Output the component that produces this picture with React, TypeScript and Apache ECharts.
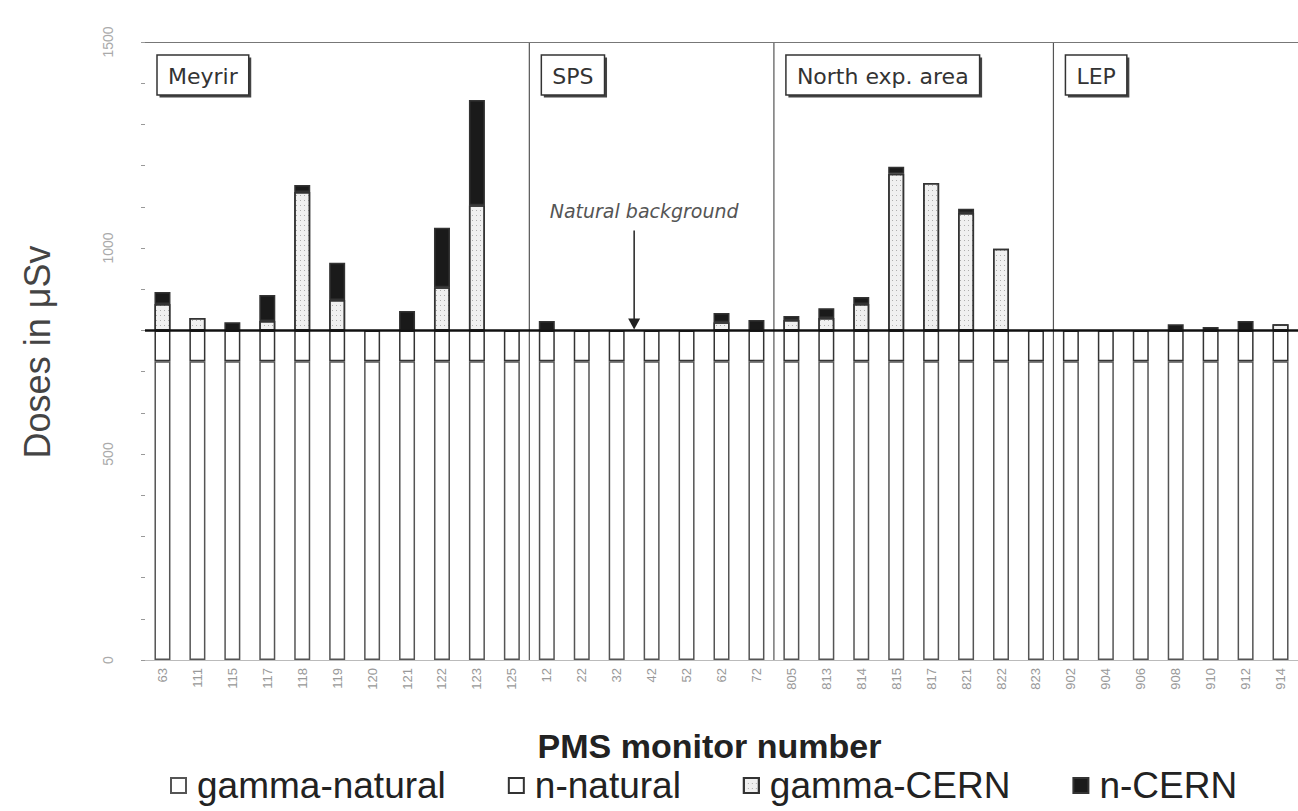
import React, { useEffect, useRef } from 'react';
import * as echarts from 'echarts';

const categories = ['63', '111', '115', '117', '118', '119', '120', '121', '122', '123', '125',
  '12', '22', '32', '42', '52', '62', '72',
  '805', '813', '814', '815', '817', '821', '822', '823',
  '902', '904', '906', '908', '910', '912', '914'];

const regionNames = ['Meyrir', 'SPS', 'North exp. area', 'LEP'];
const regionStarts = [0, 11, 18, 26];

const gammaNatural = [725, 725, 725, 725, 725, 725, 725, 725, 725, 725, 725,
  725, 725, 725, 725, 725, 725, 725,
  725, 725, 725, 725, 725, 725, 725, 725,
  725, 725, 725, 725, 725, 725, 725];
const nNatural = [75, 75, 75, 75, 75, 75, 75, 75, 75, 75, 75,
  75, 75, 75, 75, 75, 75, 75,
  75, 75, 75, 75, 75, 75, 75, 75,
  75, 75, 75, 75, 75, 75, 75];
const gammaCERN = [64, 30, 0, 23, 336, 74, 0, 0, 105, 304, 0,
  0, 0, 0, 0, 0, 20, 0,
  25, 30, 64, 380, 358, 285, 198, 0,
  0, 0, 0, 0, 0, 0, 15];
const nCERN = [29, 0, 20, 63, 17, 90, 0, 47, 144, 255, 0,
  23, 0, 0, 0, 0, 22, 25,
  10, 24, 17, 17, 0, 10, 0, 0,
  0, 0, 0, 15, 8, 23, 0];

const yLabels = [0, 500, 1000, 1500];
const naturalBackground = 800;
const noteText = 'Natural background';

export default function App() {
  const ref = useRef<HTMLDivElement>(null);

  useEffect(() => {
    const chart = echarts.init(ref.current!, null, { renderer: 'svg' });
    const border = { borderColor: '#333', borderWidth: 1.5 };
    const mk = (name: string, data: number[], color: string, extra: any = {}) => ({
      name,
      type: 'bar',
      stack: 'dose',
      barWidth: 16,
      data: data.map((v) => (v === 0 ? null : v)),
      itemStyle: { color, ...border, ...(extra.itemStyle || {}) },
      ...(extra.markLine ? { markLine: extra.markLine } : {}),
    });

    chart.setOption({
      animation: false,
      textStyle: { fontFamily: '"Liberation Sans", Arial, sans-serif' },
      grid: { left: 145, right: 0, top: 42, bottom: 151 },
      xAxis: {
        type: 'category',
        data: categories,
        axisLine: { lineStyle: { color: '#bbb' } },
        axisTick: { show: false },
        axisLabel: { rotate: 90, fontSize: 13, color: '#999', margin: 8 },
      },
      yAxis: {
        type: 'value',
        min: 0,
        max: 1500,
        interval: 100,
        axisLine: { show: false },
        axisTick: { show: true, length: 4, lineStyle: { color: '#999' } },
        splitLine: { show: false },
        axisLabel: {
          rotate: 90,
          color: '#aaa',
          fontSize: 14,
          margin: 30,
          formatter: (v: number) => (yLabels.includes(v) ? String(v) : ''),
        },
      },
      legend: {
        left: 165,
        top: 762,
        icon: 'rect',
        itemWidth: 15,
        itemHeight: 15,
        itemGap: 62,
        textStyle: { fontSize: 37, color: '#222', padding: [0, 0, 0, 6] },
        data: ['gamma-natural', 'n-natural', 'gamma-CERN', 'n-CERN'],
      },
      series: [
        mk('gamma-natural', gammaNatural, '#ffffff', { itemStyle: { borderColor: '#555' } }),
        mk('n-natural', nNatural, '#ffffff'),
        mk('gamma-CERN', gammaCERN, '#f0f0f0', {
          itemStyle: {
            decal: {
              symbol: 'rect',
              symbolSize: 1,
              color: 'rgba(0,0,0,0.28)',
              dashArrayX: [1, 3],
              dashArrayY: [1, 4],
              rotation: 0,
            },
          },
        }),
        mk('n-CERN', nCERN, '#1a1a1a', {
          markLine: {
            silent: true,
            symbol: ['none', 'none'],
            label: { show: false },
            data: [
              { yAxis: naturalBackground, lineStyle: { color: '#111', width: 2.5, type: 'solid' } },
              { yAxis: 1500, lineStyle: { color: '#777', width: 1, type: 'solid' } },
            ],
          },
        }),
      ],
    });

    const xPix = (i: number) => chart.convertToPixel({ xAxisIndex: 0 }, categories[i]) as number;
    const yPix = (v: number) => chart.convertToPixel({ yAxisIndex: 0 }, v) as number;
    const top = yPix(1500);
    const bottom = yPix(0);
    const step = xPix(1) - xPix(0);
    const y800 = yPix(naturalBackground);
    const plotCenter = (xPix(0) - step / 2 + xPix(categories.length - 1) + step / 2) / 2;

    const canvas = document.createElement('canvas');
    const ctx = canvas.getContext('2d')!;
    const boxFont = '22px "DejaVu Sans"';
    ctx.font = boxFont;

    const elements: any[] = [];
    regionStarts.forEach((s, k) => {
      const left = s === 0 ? xPix(0) - step / 2 : (xPix(s - 1) + xPix(s)) / 2;
      if (s !== 0) {
        elements.push({
          type: 'line',
          shape: { x1: left, y1: top, x2: left, y2: bottom },
          style: { stroke: '#555', lineWidth: 1.2 },
          silent: true,
        });
      }
      const tw = ctx.measureText(regionNames[k]).width;
      const bx = left + 12;
      const by = 55;
      const bw = tw + 22;
      const bh = 40;
      elements.push({
        type: 'rect',
        shape: { x: bx + 2.5, y: by + 2.5, width: bw, height: bh },
        style: { fill: '#444' },
        silent: true,
      });
      elements.push({
        type: 'rect',
        shape: { x: bx, y: by, width: bw, height: bh },
        style: { fill: '#fff', stroke: '#333', lineWidth: 1.5 },
        silent: true,
      });
      elements.push({
        type: 'text',
        x: bx + 11,
        y: by + bh / 2 + 1,
        style: {
          text: regionNames[k],
          font: boxFont,
          fill: '#333',
          textAlign: 'left',
          textVerticalAlign: 'middle',
        },
        silent: true,
      });
    });

    const ax = (xPix(13) + xPix(14)) / 2;
    elements.push({
      type: 'text',
      x: ax + 10,
      y: y800 - 119,
      style: {
        text: noteText,
        font: 'italic 19px "DejaVu Sans"',
        fill: '#555',
        textAlign: 'center',
        textVerticalAlign: 'middle',
      },
      silent: true,
    });
    elements.push({
      type: 'line',
      shape: { x1: ax, y1: y800 - 100, x2: ax, y2: y800 - 10 },
      style: { stroke: '#222', lineWidth: 1.5 },
      silent: true,
    });
    elements.push({
      type: 'polygon',
      shape: { points: [[ax - 6, y800 - 12], [ax + 6, y800 - 12], [ax, y800 - 1]] },
      style: { fill: '#222' },
      silent: true,
    });
    elements.push({
      type: 'text',
      x: 37,
      y: 352,
      rotation: Math.PI / 2,
      style: {
        text: 'Doses in μSv',
        font: '36px "Liberation Sans"',
        fill: '#444',
        textAlign: 'center',
        textVerticalAlign: 'middle',
      },
      silent: true,
    });
    elements.push({
      type: 'text',
      x: plotCenter - 12,
      y: 746,
      style: {
        text: 'PMS monitor number',
        font: 'bold 34px "Liberation Sans"',
        fill: '#222',
        textAlign: 'center',
        textVerticalAlign: 'middle',
      },
      silent: true,
    });

    chart.setOption({ graphic: { elements } });

    return () => chart.dispose();
  }, []);

  return <div ref={ref} style={{ width: 1298, height: 811, position: 'absolute', left: 0, top: 0 }} />;
}
